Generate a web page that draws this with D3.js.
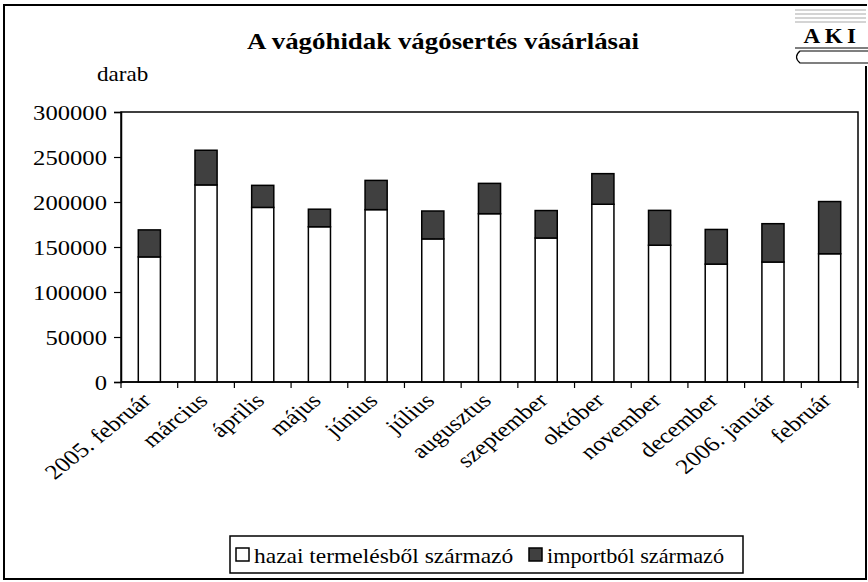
<!DOCTYPE html>
<html>
<head>
<meta charset="utf-8">
<script src="https://cdn.jsdelivr.net/npm/d3@7"></script>
<style>
  html, body { margin: 0; padding: 0; background: #fff; }
  svg { display: block; }
  text { font-family: "Liberation Serif", "Times New Roman", serif; fill: #000; }
</style>
</head>
<body>
<svg id="chart" width="868" height="582"></svg>
<script>
const categories = ["2005. február", "március", "április", "május", "június", "július",
  "augusztus", "szeptember", "október", "november", "december", "2006. január", "február"];
const hazai = [139000, 219000, 194000, 172500, 191500, 159000, 187000, 160000, 197500, 152000, 131000, 133300, 142500];
const importb = [30000, 38500, 24500, 19500, 32500, 31000, 33700, 30500, 34000, 38700, 38500, 42600, 58000];
const yTicks = [0, 50000, 100000, 150000, 200000, 250000, 300000];
const seriesNames = ["hazai termelésből származó", "importból származó"];
const title = "A vágóhidak vágósertés vásárlásai";
const yUnit = "darab";

const svg = d3.select("#chart");
const plot = { left: 121, top: 112, right: 858, bottom: 382 };
const SX = 1.12; // horizontal text stretch of the original

// outer border
svg.append("rect").attr("x", 4).attr("y", 5).attr("width", 862).attr("height", 574)
  .attr("fill", "#fff").attr("stroke", "#000").attr("stroke-width", 2);

const x = d3.scaleBand().domain(categories).range([plot.left, plot.right])
  .paddingInner(0.61).paddingOuter(0.305);
const y = d3.scaleLinear().domain([0, 300000]).range([plot.bottom, plot.top]);

// plot frame
svg.append("rect").attr("x", plot.left).attr("y", plot.top)
  .attr("width", plot.right - plot.left).attr("height", plot.bottom - plot.top)
  .attr("fill", "none").attr("stroke", "#000").attr("stroke-width", 1.5);

// stacked data
const stackData = categories.map((c, i) => ({ cat: c, hazai: hazai[i], importb: importb[i] }));
const stack = d3.stack().keys(["hazai", "importb"])(stackData);
const fills = ["#ffffff", "#404040"];

svg.append("g").selectAll("g").data(stack).join("g")
  .attr("fill", (d, i) => fills[i])
  .selectAll("rect").data(d => d).join("rect")
  .attr("x", d => x(d.data.cat))
  .attr("y", d => y(d[1]))
  .attr("width", x.bandwidth())
  .attr("height", d => y(d[0]) - y(d[1]))
  .attr("stroke", "#000").attr("stroke-width", 1.5);

// y axis
const yAxis = d3.axisLeft(y).tickValues(yTicks).tickSize(7).tickPadding(0).tickFormat(d3.format("d"));
const gy = svg.append("g").attr("transform", `translate(${plot.left},0)`).call(yAxis);
gy.attr("font-family", null);
gy.select(".domain").attr("stroke", "#000").attr("stroke-width", 1.5);
gy.selectAll(".tick line").attr("stroke", "#000").attr("stroke-width", 1.2);
gy.selectAll(".tick text")
  .attr("x", null).attr("dy", null)
  .attr("transform", `translate(-14,7.5) scale(${SX},1)`)
  .attr("font-size", 22).attr("fill", "#000");

// x axis: ticks at category boundaries
const step = x.step();
const boundaries = d3.range(categories.length + 1).map(i => plot.left + i * step);
const gx = svg.append("g");
gx.append("line").attr("x1", plot.left).attr("x2", plot.right)
  .attr("y1", plot.bottom).attr("y2", plot.bottom).attr("stroke", "#000").attr("stroke-width", 1.5);
gx.selectAll("line.tk").data(boundaries).join("line").attr("class", "tk")
  .attr("x1", d => d).attr("x2", d => d)
  .attr("y1", plot.bottom).attr("y2", plot.bottom + 6)
  .attr("stroke", "#000").attr("stroke-width", 1.2);
gx.selectAll("text").data(categories).join("text")
  .attr("transform", d => `translate(${x(d) + x.bandwidth() / 2 + 3},${plot.bottom + 20}) scale(1.2,1) rotate(-44)`)
  .attr("text-anchor", "end")
  .attr("font-size", 21)
  .text(d => d);

// title
svg.append("text").attr("transform", `translate(443,49) scale(${SX},1)`).attr("text-anchor", "middle")
  .attr("font-size", 24).attr("font-weight", "bold").text(title);
svg.append("text").attr("transform", `translate(97,81) scale(1.1,1)`).attr("font-size", 21).text(yUnit);

// legend
const lg = svg.append("g");
lg.append("rect").attr("x", 230).attr("y", 536).attr("width", 513).attr("height", 37)
  .attr("fill", "#fff").attr("stroke", "#000").attr("stroke-width", 1.5);
const legendX = [236, 529];
const legendSX = [1.067, 1.01];
seriesNames.forEach((n, i) => {
  lg.append("rect").attr("x", legendX[i]).attr("y", 548).attr("width", 13).attr("height", 13)
    .attr("fill", fills[i]).attr("stroke", "#000").attr("stroke-width", 1.5);
  lg.append("text").attr("transform", `translate(${legendX[i] + 18},563) scale(${legendSX[i]},1)`)
    .attr("font-size", 22).text(n);
});

// logo
const logo = svg.append("g");
logo.append("rect").attr("x", 792).attr("y", 6).attr("width", 76).attr("height", 60).attr("fill", "#fff");
[10, 14, 18, 22].forEach(yy => {
  logo.append("line").attr("x1", 795).attr("x2", 866).attr("y1", yy).attr("y2", yy)
    .attr("stroke", "#aaa").attr("stroke-width", 1.2);
});
logo.append("text").attr("transform", "translate(832,43) scale(1.1,1)").attr("text-anchor", "middle")
  .attr("font-size", 21).attr("font-weight", "bold").attr("letter-spacing", 4).text("AKI");
logo.append("line").attr("x1", 795).attr("x2", 868).attr("y1", 48).attr("y2", 48)
  .attr("stroke", "#000").attr("stroke-width", 1.2);
logo.append("path").attr("d", "M868,51 L800,51 Q793,57 800,63 L868,63")
  .attr("fill", "none").attr("stroke", "#000").attr("stroke-width", 1.2);
</script>
</body>
</html>
